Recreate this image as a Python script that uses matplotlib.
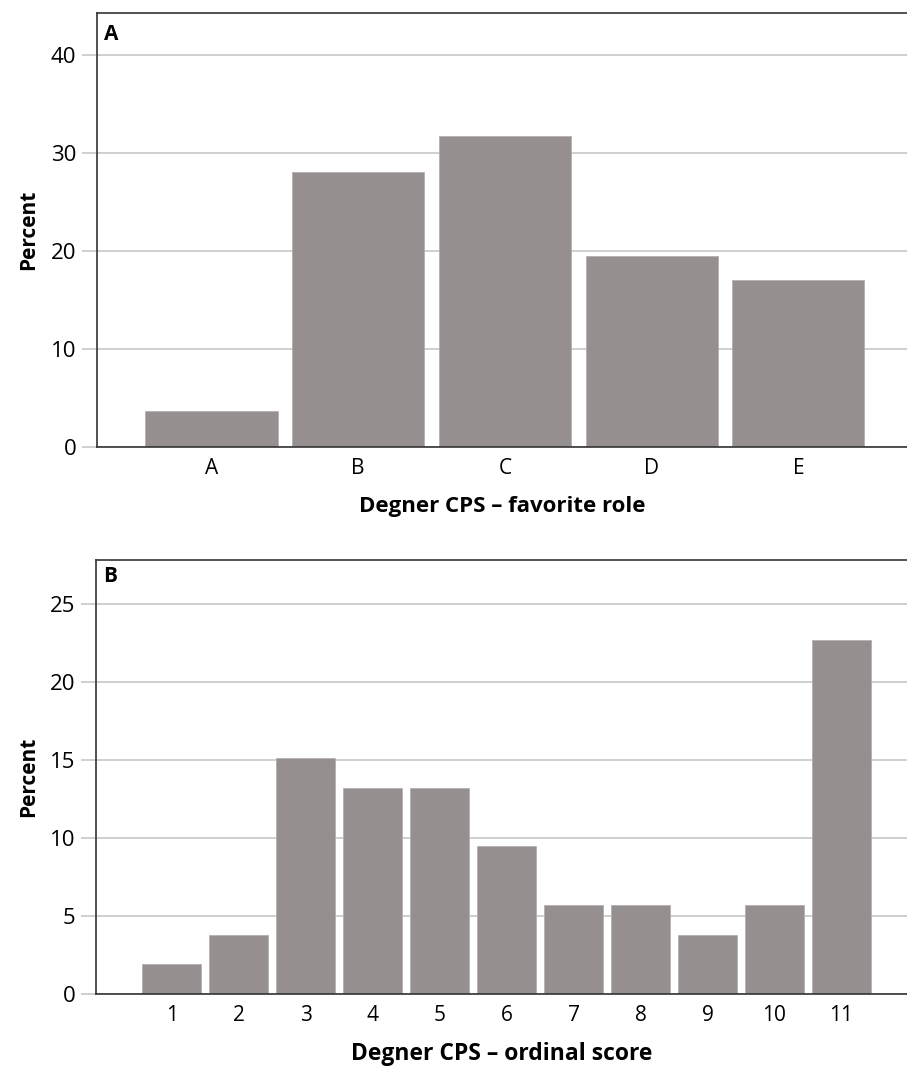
import numpy as np
import matplotlib.pyplot as plt

# panel A: favorite role
roles = ['A', 'B', 'C', 'D', 'E']
role_pct = [3.66, 28.05, 31.71, 19.51, 17.07]

# panel B: ordinal score
scores = ['1', '2', '3', '4', '5', '6', '7', '8', '9', '10', '11']
score_pct = [1.89, 3.77, 15.09, 13.21, 13.21, 9.43, 5.66, 5.66, 3.77, 5.66, 22.64]

bar_col = '#968f8f'
grid_col = '#cccccc'
spine_col = '#333333'

plt.rcParams['font.family'] = ['Open Sans', 'DejaVu Sans']

fig = plt.figure(figsize=(9.07, 10.66), dpi=100)
ax1 = fig.add_axes([0.107, 0.5805, 0.893, 0.4073])
ax2 = fig.add_axes([0.106, 0.068, 0.894, 0.4067])


def style(ax, ymax, step):
    ax.set_ylim(0, ymax)
    ax.set_yticks(np.arange(0, ymax, step))
    ax.yaxis.grid(True, color=grid_col, linewidth=1.3)
    ax.set_axisbelow(True)
    ax.spines['right'].set_visible(False)
    for s in ['left', 'top', 'bottom']:
        ax.spines[s].set_color(spine_col)
        ax.spines[s].set_linewidth(1.2)
    ax.tick_params(axis='y', length=11, color=grid_col, width=1.3,
                   labelsize=16, pad=4)
    ax.tick_params(axis='x', length=0, labelsize=15, pad=8)
    ax.set_ylabel('Percent', fontsize=15, fontweight='bold', labelpad=8)


x1 = np.arange(len(roles))
ax1.bar(x1, role_pct, width=0.9, color=bar_col, edgecolor='#b5b0b0', linewidth=0.6)
ax1.set_xticks(x1)
ax1.set_xticklabels(roles)
ax1.set_xlim(-0.78, 4.74)
style(ax1, 44.3, 10)
ax1.set_xlabel('Degner CPS \u2013 favorite role', fontsize=16, fontweight='bold', labelpad=12)
ax1.text(0.009, 0.975, 'A', transform=ax1.transAxes, fontsize=15,
         fontweight='bold', va='top', ha='left')

x2 = np.arange(len(scores))
ax2.bar(x2, score_pct, width=0.88, color=bar_col, edgecolor='#b5b0b0', linewidth=0.6)
ax2.set_xticks(x2)
ax2.set_xticklabels(scores)
ax2.set_xlim(-1.13, 10.98)
style(ax2, 27.8, 5)
ax2.set_xlabel('Degner CPS \u2013 ordinal score', fontsize=16.5, fontweight='bold',
               labelpad=12)
ax2.text(0.009, 0.985, 'B', transform=ax2.transAxes, fontsize=15,
         fontweight='bold', va='top', ha='left')

fig.savefig('out.png', dpi=100)
